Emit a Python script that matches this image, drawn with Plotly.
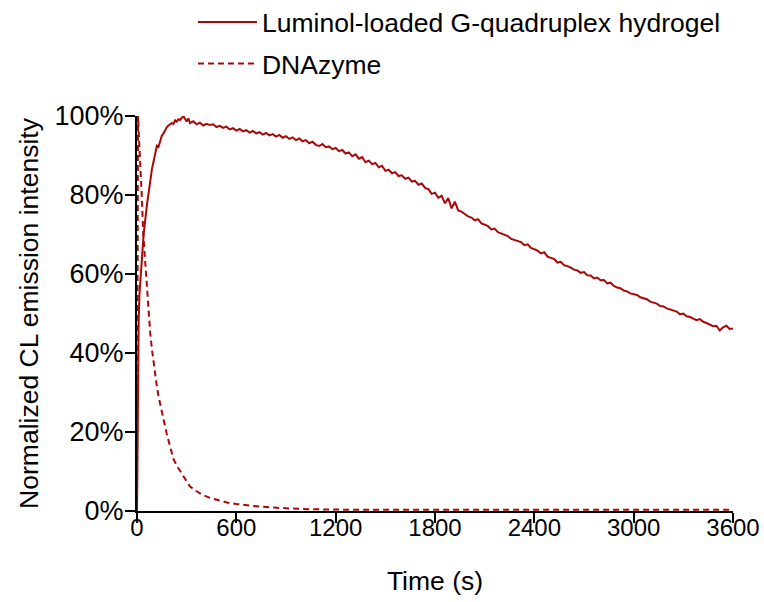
import plotly.graph_objects as go

# Luminol-loaded G-quadruplex hydrogel (solid)
gel_time = [0, 3, 6, 10, 15, 20, 30, 40, 50, 60, 70, 80, 90, 100, 110, 120, 130, 140, 150, 160,
            170, 180, 190, 200, 210, 220, 230, 240, 250, 260, 270, 280, 290, 300, 310] + list(range(320, 3601, 20))
gel_val = [0, 22, 38, 48, 55, 59, 64, 70, 74.5, 77.5, 80.5, 84, 86.5, 88.5, 90.5, 92.5, 92.2, 93.8, 95.0, 95.6,
           96.5, 97.2, 97.6, 97.8, 98.2, 98.0, 98.9, 98.6, 99.2, 99.0, 99.6, 100, 99.3, 98.6, 99.4,
           98.2, 98.7, 97.9, 98.3, 97.6, 98.0, 97.7, 97.9, 97.2, 97.5,
           97.0, 97.3, 96.6, 96.9, 96.3, 96.7, 96.1, 96.4, 95.8, 96.2,
           95.6, 95.9, 95.3, 95.7, 95.1, 95.4, 94.8, 95.2, 94.5, 94.9,
           94.2, 94.6, 93.9, 94.3, 93.6, 93.9, 93.1, 93.5, 92.7, 92.4,
           92.9, 92.1, 92.3, 91.6, 91.9, 91.1, 91.4, 90.5, 90.8, 89.8,
           90.3, 89.2, 89.6, 88.3, 88.7, 87.8, 88.1, 87.0, 87.4, 86.1,
           86.4, 85.5, 85.8, 84.8, 85.0, 84.1, 84.4, 83.4, 83.6, 82.6,
           82.9, 81.8, 81.5, 80.3, 80.6, 79.3, 79.8, 77.9, 79.2, 76.6,
           78.3, 76.1, 75.8, 75.2, 74.6, 74.3, 73.6, 73.9, 72.8, 72.5,
           72.1, 71.3, 71.5, 70.6, 70.2, 69.9, 69.6, 68.9, 68.6, 68.4,
           68.1, 67.3, 67.5, 66.6, 66.3, 65.9, 65.2, 65.5, 64.4, 64.0,
           63.8, 62.9, 63.1, 62.2, 62.0, 61.6, 61.1, 60.9, 60.3, 60.5,
           59.7, 59.6, 58.9, 59.1, 58.4, 58.5, 57.6, 57.8, 57.0, 56.6,
           56.4, 55.8, 55.6, 55.1, 54.8, 54.7, 54.1, 53.8, 53.6, 53.0,
           52.7, 52.5, 51.9, 51.8, 51.3, 51.0, 50.6, 50.5, 49.8, 50.0,
           49.3, 49.1, 48.7, 48.3, 48.6, 47.9, 47.6, 47.2, 46.8, 46.9,
           45.7, 46.5, 46.9, 46.1, 46.2]

# DNAzyme (dashed)
dna_time = [0, 3, 6, 10, 18, 28, 38, 48, 58, 70, 80, 90, 100, 110, 120, 130, 140, 160, 180, 200,
            220, 240, 260, 290, 320, 360, 400, 450, 500, 550, 600, 650, 700, 750, 800, 850, 900,
            1000, 1200, 1500, 2000, 2500, 3000, 3600]
dna_val = [0, 95, 100, 96, 87, 80.5, 70, 64, 58.5, 50, 45, 41, 37.5, 34.5, 31.5, 29, 27, 23, 19.5, 16.3,
           13.2, 11.5, 10.2, 8, 6.2, 5, 4, 3.2, 2.6, 2.1, 1.8, 1.5, 1.3, 1.1, 0.9, 0.8, 0.7,
           0.5, 0.35, 0.3, 0.3, 0.3, 0.3, 0.3]

x_ticks = [0, 600, 1200, 1800, 2400, 3000, 3600]
y_ticks = [0, 20, 40, 60, 80, 100]

RED = "#AA0808"
sans = "Liberation Sans, Arial, sans-serif"

fig = go.Figure()
fig.add_trace(go.Scatter(x=gel_time, y=gel_val, mode="lines",
                         name="Luminol-loaded G-quadruplex hydrogel", legendgroup="a",
                         line=dict(color=RED, width=2)))
fig.add_trace(go.Scatter(x=dna_time, y=dna_val, mode="lines", name="DNAzyme", legendgroup="b",
                         line=dict(color=RED, width=2, dash="6px,4px")))

fig.update_layout(
    width=764, height=602,
    margin=dict(l=137, r=31, t=116, b=91, autoexpand=False),
    paper_bgcolor="white", plot_bgcolor="white",
    font=dict(family=sans, color="black", size=26),
    showlegend=True,
    legend=dict(x=0.0939, y=1.298, xanchor="left", yanchor="top",
                font=dict(size=26.5, family=sans), traceorder="grouped",
                tracegroupgap=4, itemwidth=59, bgcolor="rgba(0,0,0,0)"),
    xaxis=dict(range=[0, 3600], tickvals=x_ticks, ticktext=[str(v) for v in x_ticks],
               showgrid=False, zeroline=False, showline=True, linecolor="black", linewidth=2,
               ticks="outside", ticklen=10, tickwidth=2, tickcolor="black",
               tickfont=dict(family=sans, size=24), layer="below traces",
               automargin=False, ticklabeloverflow="allow", ticklabelstandoff=-16,
               title=dict(text="Time (s)", font=dict(family=sans, size=26.5), standoff=32)),
    yaxis=dict(range=[0, 100], tickvals=y_ticks, ticktext=[f"{v}%" for v in y_ticks],
               showgrid=False, zeroline=False, showline=True, linecolor="black", linewidth=2,
               ticks="outside", ticklen=10, tickwidth=2, tickcolor="black",
               tickfont=dict(family=sans, size=27), layer="below traces",
               automargin=False, ticklabeloverflow="allow", ticklabelstandoff=-4,
               title=dict(text="Normalized CL emission intensity", font=dict(family=sans, size=26.5), standoff=8)),
)

fig.write_html("out.html", config={"displayModeBar": False},
               post_script="document.body.style.margin='0';document.body.style.overflow='hidden';")
